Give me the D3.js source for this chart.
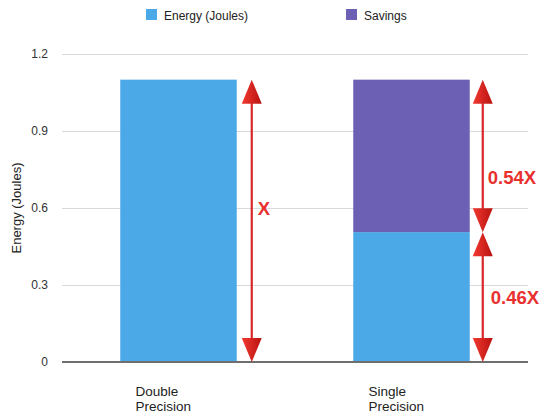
<!DOCTYPE html>
<html>
<head>
<meta charset="utf-8">
<script src="https://cdn.jsdelivr.net/npm/d3@7/dist/d3.min.js"></script>
<style>
  html, body { margin: 0; padding: 0; background: #fff; }
  svg { display: block; font-family: "Liberation Sans", Arial, Helvetica, sans-serif; }
</style>
</head>
<body>
<svg id="chart" width="545" height="417"></svg>
<script>
// Chart data
const categories = ["Double Precision", "Single Precision"];
const seriesNames = ["Energy (Joules)", "Savings"];
const energy = [1.1, 0.506];
const savings = [0, 0.594];
const yTicks = [0, 0.3, 0.6, 0.9, 1.2];
const yTickLabels = ["0", "0.3", "0.6", "0.9", "1.2"];
const ratioLabels = ["X", "0.54X", "0.46X"];

const colors = ["#4BA9E8", "#6C60B5"];
const red = "#D8262A";

const W = 545, H = 417;
const margin = { top: 54, right: 17, bottom: 55, left: 62 };
const svg = d3.select("#chart");

const x = d3.scaleBand().domain(categories).range([margin.left, W - margin.right]).paddingInner(0).paddingOuter(0);
const y = d3.scaleLinear().domain([0, 1.2]).range([H - margin.bottom, margin.top]);

// arrowhead gradient
const defs = svg.append("defs");
const grad = defs.append("linearGradient").attr("id", "headGrad").attr("x1", "0%").attr("x2", "100%");
grad.append("stop").attr("offset", "0%").attr("stop-color", "#F23A32");
grad.append("stop").attr("offset", "100%").attr("stop-color", "#B8120F");

// gridlines
const yAxis = d3.axisLeft(y).tickValues(yTicks).tickFormat((d, i) => yTickLabels[i])
  .tickSize(-(W - margin.left - margin.right)).tickPadding(14);
const gy = svg.append("g").attr("transform", `translate(${margin.left},0)`).call(yAxis);
gy.select(".domain").remove();
gy.selectAll(".tick line").attr("stroke", "#D9D9D9").attr("stroke-width", 1.2);
gy.selectAll(".tick text").attr("fill", "#333").attr("font-size", 12).style("font-family", "Liberation Sans, Arial, sans-serif");

// stacked bars
const stackData = categories.map((c, i) => ({ cat: c, e: energy[i], s: savings[i] }));
const stack = d3.stack().keys(["e", "s"])(stackData);
const bw = x.bandwidth() * 0.5;
svg.append("g").selectAll("g").data(stack).join("g")
  .attr("fill", (d, i) => colors[i])
  .selectAll("rect").data(d => d).join("rect")
  .attr("x", d => x(d.data.cat) + (x.bandwidth() - bw) / 2)
  .attr("width", bw)
  .attr("y", d => y(d[1]))
  .attr("height", d => y(d[0]) - y(d[1]));

// baseline
svg.append("line")
  .attr("x1", margin.left).attr("x2", W - margin.right)
  .attr("y1", y(0)).attr("y2", y(0))
  .attr("stroke", "#6E6E6E").attr("stroke-width", 2);

// category labels (two lines)
categories.forEach(c => {
  const lx = x(c) + x.bandwidth() / 2 - 43;
  const t = svg.append("text")
    .attr("x", lx)
    .attr("y", 396)
    .attr("font-size", 13.5).attr("fill", "#222");
  c.split(" ").forEach((w, k) => {
    t.append("tspan").attr("x", lx).attr("dy", k === 0 ? 0 : 15).text(w);
  });
});

// y axis title
svg.append("text")
  .attr("transform", `translate(21,${y(0.6)}) rotate(-90)`)
  .attr("text-anchor", "middle")
  .attr("font-size", 13).attr("fill", "#222")
  .text("Energy (Joules)");

// legend
const legendX = [146, 346];
seriesNames.forEach((n, i) => {
  svg.append("rect").attr("x", legendX[i]).attr("y", 9).attr("width", 11).attr("height", 11).attr("fill", colors[i]);
  svg.append("text").attr("x", legendX[i] + 18).attr("y", 19.5).attr("font-size", 12).attr("fill", "#222").text(n);
});

// dimension arrows
const headW = 20, headH = 24;
function head(cx, tipY, dir) {
  // dir = -1 points up, +1 points down
  const baseY = tipY - dir * headH;
  svg.append("path")
    .attr("d", `M${cx},${tipY} L${cx - headW / 2},${baseY} L${cx + headW / 2},${baseY} Z`)
    .attr("fill", "url(#headGrad)");
}
function arrow(cx, v0, v1) {
  const yt = y(v1), yb = y(v0);
  svg.append("line").attr("x1", cx).attr("x2", cx).attr("y1", yt + 4).attr("y2", yb - 4)
    .attr("stroke", red).attr("stroke-width", 2.2);
  head(cx, yt, -1);
  head(cx, yb, 1);
}
const ax1 = x(categories[0]) + (x.bandwidth() + bw) / 2 + 15;
const ax2 = x(categories[1]) + (x.bandwidth() + bw) / 2 + 13;
const total0 = energy[0] + savings[0];
const total1 = energy[1] + savings[1];
arrow(ax1, 0, total0);
arrow(ax2, energy[1], total1);
arrow(ax2, 0, energy[1]);

const lbl = (tx, v, s) => svg.append("text").attr("x", tx).attr("y", y(v)).attr("dy", "0.36em")
  .attr("font-size", 18.5).attr("font-weight", "bold").attr("fill", "#E8302E").text(s);
lbl(ax1 + 6, 0.6, ratioLabels[0]);
lbl(ax2 + 5, 0.72, ratioLabels[1]);
lbl(ax2 + 8, 0.25, ratioLabels[2]);
</script>
</body>
</html>
